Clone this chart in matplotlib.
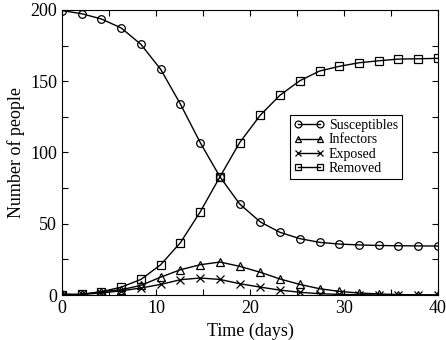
import numpy as np
import matplotlib.pyplot as plt
from matplotlib.ticker import MultipleLocator

plt.rcParams['font.family'] = ['Liberation Serif', 'DejaVu Serif']

# time points (days) where the markers sit
days = [0, 2.1, 4.2, 6.3, 8.4, 10.5, 12.6, 14.7, 16.8, 18.9,
        21.1, 23.2, 25.3, 27.4, 29.5, 31.6, 33.7, 35.8, 37.9, 40]

susceptibles = [199.5, 197.3, 193.6, 187.3, 175.8, 158.3, 133.9, 107.0, 83.0, 63.9,
                51.3, 44.0, 39.6, 37.0, 35.8, 35.2, 34.8, 34.6, 34.5, 34.4]
infectors = [0.8, 0.5, 2.4, 3.8, 6.8, 12.6, 17.8, 21.3, 23.2, 20.2,
             16.0, 11.3, 7.5, 4.5, 2.6, 1.5, 0.8, 0.4, 0.2, 0.1]
exposed = [0.0, 0.5, 1.5, 3.0, 5.0, 7.5, 10.8, 12.0, 11.0, 8.0,
           5.6, 3.5, 2.0, 1.0, 0.5, 0.3, 0.1, 0.1, 0.0, 0.0]
removed = [0.0, 0.5, 2.4, 5.6, 11.0, 21.3, 36.8, 58.3, 82.9, 106.9,
           126.2, 140.2, 150.3, 157.1, 160.4, 162.9, 164.3, 165.5, 165.7, 166.0]

fig = plt.figure(figsize=(4.46, 3.4), dpi=100)
ax = fig.add_axes([0.139, 0.132, 0.843, 0.839])

style = dict(color='black', lw=1.0, ms=5.5, mfc='none', mec='black', mew=0.9)
ax.plot(days, susceptibles, marker='o', label='Susceptibles', **style)
ax.plot(days, infectors, marker='^', label='Infectors', **style)
ax.plot(days, exposed, marker='x', label='Exposed', **style)
ax.plot(days, removed, marker='s', label='Removed', **style)

ax.set_xlim(0, 40)
ax.set_ylim(0, 200)
ax.xaxis.set_major_locator(MultipleLocator(10))
ax.xaxis.set_minor_locator(MultipleLocator(5))
ax.yaxis.set_major_locator(MultipleLocator(50))
ax.yaxis.set_minor_locator(MultipleLocator(25))
ax.tick_params(which='both', direction='in', top=True, right=True,
               labelsize=13, width=0.8, length=4)
for sp in ax.spines.values():
    sp.set_linewidth(0.8)

ax.set_xlabel('Time (days)', fontsize=13)
ax.set_ylabel('Number of people', fontsize=13)

leg = ax.legend(loc='upper left', bbox_to_anchor=(0.606, 0.632), fontsize=10,
                numpoints=2, fancybox=False, edgecolor='black', framealpha=1,
                handlelength=2.2, handletextpad=0.3, borderpad=0.3,
                labelspacing=0.1, borderaxespad=0, markerscale=0.9)
leg.get_frame().set_linewidth(0.8)

fig.savefig('out.png', dpi=100)
